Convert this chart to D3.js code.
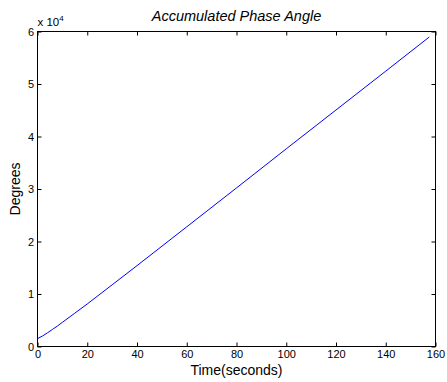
<!DOCTYPE html>
<html>
<head>
<meta charset="utf-8">
<script src="https://cdn.jsdelivr.net/npm/d3@7"></script>
<style>
  html, body { margin: 0; padding: 0; background: #fff; }
  svg { display: block; }
  text { font-family: "Liberation Sans", Arial, Helvetica, sans-serif; fill: #000; }
</style>
</head>
<body>
<svg id="chart" width="447" height="382"></svg>
<script>
// Accumulated phase angle over time
const timeSeconds = [0, 2, 4, 6, 8, 10, 15, 20, 30, 40, 60, 80, 100, 120, 140, 157.5];
const phaseDegrees = [1500, 2000, 2600, 3250, 3900, 4600, 6350, 8100, 11750, 15400, 22800, 30200, 37650, 45050, 52450, 58950];
const xTicks = [0, 20, 40, 60, 80, 100, 120, 140, 160];
const yTicks = [0, 1, 2, 3, 4, 5, 6];   // in units of 10^4
const yScaleFactor = 1e4;

const width = 447, height = 382;
const margin = { top: 31.5, right: 11.5, bottom: 35.5, left: 37.5 };
const iw = width - margin.left - margin.right;
const ih = height - margin.top - margin.bottom;

const svg = d3.select("#chart");
const g = svg.append("g").attr("transform", `translate(${margin.left},${margin.top})`);

const x = d3.scaleLinear().domain([0, 160]).range([0, iw]);
const y = d3.scaleLinear().domain([0, 6]).range([ih, 0]);

const tickLen = 4;
const tickFont = "11px";

// bottom axis with labels, ticks pointing inward
const xAxis = g.append("g").attr("transform", `translate(0,${ih})`)
  .call(d3.axisBottom(x).tickValues(xTicks).tickSize(-tickLen).tickPadding(4).tickFormat(d3.format("d")));
// top axis: ticks only
const xAxisTop = g.append("g")
  .call(d3.axisTop(x).tickValues(xTicks).tickSize(-tickLen).tickFormat(""));
// left axis with labels
const yAxis = g.append("g")
  .call(d3.axisLeft(y).tickValues(yTicks).tickSize(-tickLen).tickPadding(3.5).tickFormat(d3.format("d")));
// right axis: ticks only
const yAxisRight = g.append("g").attr("transform", `translate(${iw},0)`)
  .call(d3.axisRight(y).tickValues(yTicks).tickSize(-tickLen).tickFormat(""));

[xAxis, xAxisTop, yAxis, yAxisRight].forEach(a => {
  a.select(".domain").remove();
  a.selectAll(".tick line").attr("stroke", "#000").attr("stroke-width", 1);
  a.selectAll(".tick text").style("font-size", tickFont)
    .style("font-family", '"Liberation Sans", Arial, sans-serif').attr("fill", "#000");
});

// plot box
g.append("rect")
  .attr("x", 0).attr("y", 0).attr("width", iw).attr("height", ih)
  .attr("fill", "none").attr("stroke", "#000").attr("stroke-width", 1);

// data line
const line = d3.line()
  .x((d, i) => x(timeSeconds[i]))
  .y(d => y(d / yScaleFactor));

g.append("path")
  .datum(phaseDegrees)
  .attr("fill", "none")
  .attr("stroke", "#0000ff")
  .attr("stroke-width", 1)
  .attr("d", line);

// exponent label above the y axis
const expo = svg.append("text")
  .attr("x", margin.left).attr("y", 26)
  .style("font-size", "11.5px");
expo.append("tspan").text("x 10");
expo.append("tspan").attr("dy", -5.5).style("font-size", "8px").text("4");

// title
svg.append("text")
  .attr("x", margin.left + iw / 2).attr("y", 21)
  .attr("text-anchor", "middle")
  .style("font-size", "14.5px").style("font-style", "italic")
  .text("Accumulated Phase Angle");

// x label
svg.append("text")
  .attr("x", margin.left + iw / 2).attr("y", 374.5)
  .attr("text-anchor", "middle")
  .style("font-size", "14px")
  .text("Time(seconds)");

// y label
svg.append("text")
  .attr("transform", `translate(20,${margin.top + ih / 2}) rotate(-90)`)
  .attr("text-anchor", "middle")
  .style("font-size", "14px")
  .text("Degrees");
</script>
</body>
</html>
